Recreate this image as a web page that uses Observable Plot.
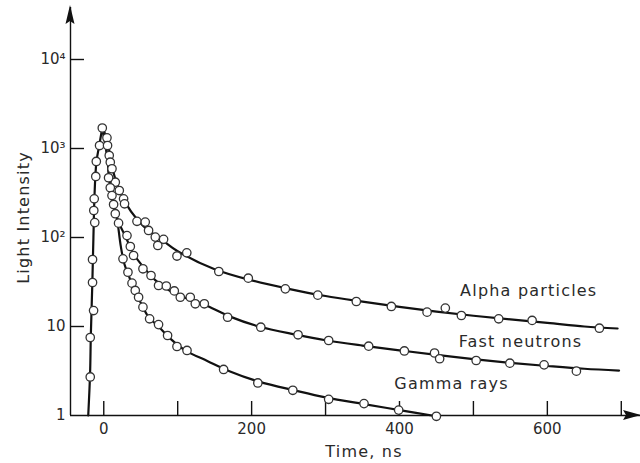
<!DOCTYPE html>
<html><head><meta charset="utf-8">
<script src="https://cdn.jsdelivr.net/npm/d3@7"></script>
<script src="https://cdn.jsdelivr.net/npm/@observablehq/plot@0.6"></script>
<style>body{margin:0;background:#fff} #chart svg{display:block}</style>
</head><body><div id="chart"></div>
<script>
// ---- data ----
// rising edge (common to all three)
const riseT = [-18.3,-18.3,-13.8,-15.2,-15.2,-12.2,-13.5,-12.9,-10.8,-10.1,-5.7,-2.0];
const riseI = [2.71,7.52,15.1,31.2,56.6,147,201,272,485,715,1080,1700];
// alpha particles (points)
const alphaT = [4.3,5.1,7.4,8.8,11.1,15.6,21.0,26.8,28.1,44.9,56.1,60.6,69.7,80.9,73.1,99.0,112.3,155.6,195.5,245.6,289.5,341.6,389,437.3,462,483.7,534.2,579.4,670.4];
const alphaI = [1318,1081,834,702,592,418,337,272,239,152,149,120,101,95.4,81.3,61.9,67.3,41.5,34.9,26.5,22.5,19.1,16.8,14.5,16.1,13.3,12.2,11.7,9.57];
// fast neutrons (points; the first six are shared with gamma rays)
const neutronT = [6.5,8.8,11.1,13.3,15.6,20.0,31.4,35.9,40.3,53.0,63.9,74.1,84.6,95.4,103.5,117.0,123.8,136.0,167.5,212.4,262.8,304.2,358.3,406.6,447.4,454.3,503.7,549.3,595.6,639.3];
const neutronI = [469,362,296,235,185,145,105,79.2,62.8,44.5,37.4,28.9,28.5,25.1,21.3,21.3,18.0,18.0,12.7,9.82,8.07,6.96,6.01,5.31,5.04,4.34,4.15,3.87,3.71,3.15];
// gamma rays (points)
const gammaT = [26.0,32.7,38.2,42.6,47.1,53.0,62.0,74.1,86.3,99.0,112.6,162.1,208.4,255.7,304.2,352.0,398.9,449.9];
const gammaI = [57.6,40.7,30.7,25.4,21.3,16.5,12.2,10.5,7.92,5.96,5.38,3.29,2.32,1.92,1.52,1.36,1.15,0.98];
// fitted curves
const riseFitT = [-21,-18.5,-17.5,-15.5,-14,-12.5,-10,-6,-2];
const riseFitI = [1,3,8,30,100,300,700,1100,1700];
const alphaFitT = [-2,5,10,20,30,45,60,80,100,150,200,250,300,350,400,450,500,550,600,650,695];
const alphaFitI = [1700,1250,680,360,240,160,120,92,70,44,33,26.5,22,19,16.6,14.7,13.2,12,11,10,9.5];
const neutronFitT = [-2,4,8,13,20,30,40,55,70,90,110,140,170,210,260,300,350,400,450,500,550,600,650,697];
const neutronFitI = [1700,900,420,240,150,100,66,45,33,25,21,17,13,10,8.1,7.0,6.1,5.4,4.8,4.3,3.9,3.6,3.35,3.2];
const gammaFitT = [-2,4,8,13,18,23,28,35,42,50,60,75,90,110,140,170,210,260,300,350,400,450];
const gammaFitI = [1700,900,420,240,160,80,50,35,25,18.5,13,9.8,7.3,5.4,4.1,3.15,2.4,1.9,1.6,1.35,1.15,0.98];

const seriesNames = ["Alpha particles","Fast neutrons","Gamma rays"];
const labelT = [482, 480, 393];
const labelI = [22.3, 5.81, 1.96];
const yTickVals = [1,10,100,1000,10000];
const yTickText = ["1","10","10²","10³","10⁴"];
const xTickVals = [0,100,200,300,400,500,600,700];
const xLabelVals = [0,200,400,600];

// ---- tables ----
const zip = (T,I,s) => T.map((t,i)=>({t, v:I[i], s}));
const points = [...zip(riseT,riseI,"rise"),...zip(alphaT,alphaI,"a"),...zip(neutronT,neutronI,"n"),...zip(gammaT,gammaI,"g")];
const fits = [...zip(riseFitT,riseFitI,"rise"),...zip(alphaFitT,alphaFitI,"a"),...zip(neutronFitT,neutronFitI,"n"),...zip(gammaFitT,gammaFitI,"g")];
const labels = seriesNames.map((name,i)=>({name, t:labelT[i], v:labelI[i]}));

const W = 640, H = 463, mL = 70, mR = 0, mT = 7, mB = 48;
const plot = Plot.plot({
  width: W, height: H, marginLeft: mL, marginRight: mR, marginTop: mT, marginBottom: mB,
  style: {fontFamily: "DejaVu Sans, sans-serif", fontSize: "15px", color: "#2a2a2a", background: "#fff", overflow: "visible"},
  x: {type: "linear", domain: [-45, 726], axis: null},
  y: {type: "log", domain: [1, 10 ** (408/89)], axis: null},
  marks: [
    Plot.ruleX([-45], {stroke: "#111", strokeWidth: 1.4}),
    Plot.ruleY([1], {stroke: "#111", strokeWidth: 1.4}),
    Plot.tickY(yTickVals.slice(1), {y: d => d, stroke: "#111", strokeWidth: 1.4, insetRight: (W - mL - mR) - 14}),
    Plot.tickX(xTickVals, {x: d => d, stroke: "#111", strokeWidth: 1.4, insetTop: (H - mT - mB) - 14}),
    Plot.axisY(yTickVals, {tickSize: 0, tickPadding: 5, tickFormat: d => yTickText[yTickVals.indexOf(d)], label: null, fontSize: 15}),
    Plot.axisX(xLabelVals, {tickSize: 0, tickPadding: 8, label: null, fontSize: 15}),
    Plot.line(fits, {x: "t", y: "v", z: "s", curve: "catmull-rom", stroke: "#111", strokeWidth: 2.2}),
    Plot.dot(points, {x: "t", y: "v", r: 4.2, fill: "#fff", stroke: "#333", strokeWidth: 1.3}),
    Plot.text(labels, {x: "t", y: "v", text: "name", textAnchor: "start", lineAnchor: "bottom", fontSize: 16, fill: "#2a2a2a"}),
    Plot.text(["Time, ns"], {x: 352, frameAnchor: "bottom", dy: 41, lineAnchor: "bottom", fontSize: 16, fill: "#2a2a2a"}),
    Plot.text(["Light Intensity"], {frameAnchor: "left", textAnchor: "middle", dx: -47, dy: 6, rotate: -90, fontSize: 16, fill: "#2a2a2a"})
  ]
});
document.getElementById("chart").appendChild(plot);

// letter spacing for the hand-lettered labels, and axis arrowheads
const svg = d3.select(plot);
svg.selectAll("text").filter(function(){ return [...seriesNames, "Time, ns", "Light Intensity"].includes(this.textContent); })
  .attr("letter-spacing", "1.2");
const xs = plot.scale("x"), ys = plot.scale("y");
const ax = xs.apply(-45), ay = ys.apply(1);
svg.append("path").attr("d", `M${ax},5 L${ax+4.5},24 L${ax},21 L${ax-4.5},24 Z`).attr("fill", "#111");
svg.append("path").attr("d", `M${W+1},${ay} L${W-17},${ay-5} L${W-14},${ay} L${W-17},${ay+5} Z`).attr("fill", "#111");
</script>
</body></html>
